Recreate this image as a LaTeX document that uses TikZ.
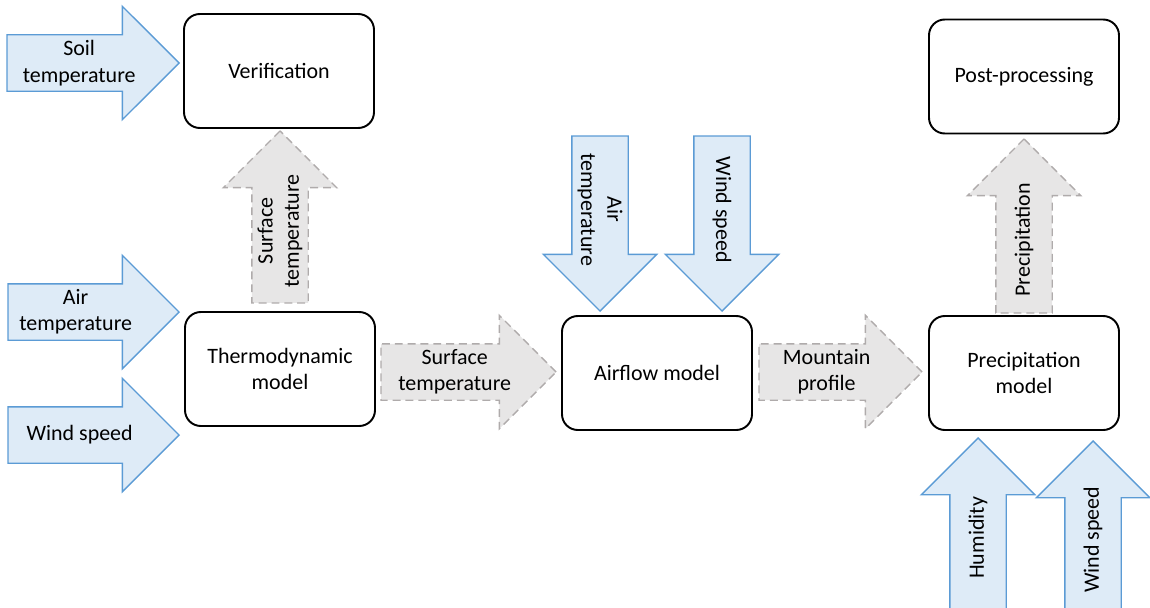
\documentclass[tikz,border=0pt]{standalone}
\usepackage{fontspec}
\setmainfont{Carlito}
\usetikzlibrary{shapes.arrows, calc}

\begin{document}
\begin{tikzpicture}[
    % Colors
    cblue/.style={fill={rgb,255:red,222;green,235;blue,247}, draw={rgb,255:red,91;green,155;blue,213}},
    cgray/.style={fill={rgb,255:red,231;green,230;blue,230}, draw={rgb,255:red,175;green,171;blue,171}},
    % Styles
    model/.style={draw, rounded corners=9pt, minimum width=3.8cm, minimum height=2.28cm,
                  line width=1.1pt, align=center, font=\fontsize{12.5}{15}\selectfont},
    bigarrow/.style={single arrow, single arrow head extend=0.57cm, minimum width=2.24cm,
                     inner xsep=0pt, inner ysep=0.55cm, line width=0.8pt, anchor=tip},
    inarrow/.style={bigarrow, cblue},
    dataarrow/.style={bigarrow, cgray, dash pattern=on 4.5pt off 2.8pt},
    lbl/.style={align=center, inner sep=0pt, font=\fontsize{12.5}{15}\selectfont},
  ]
  \useasboundingbox (0,0) rectangle (23,12.14);

  % Models
  \node[model] (verif) at (5.58, 10.72) {Verification};
  \node[model] (thermo) at (5.6, 4.76) {Thermodynamic\\model};
  \node[model] (airflow) at (13.14, 4.68) {Airflow model};
  \node[model] (precip) at (20.48, 4.68) {Precipitation\\model};
  \node[model] (post) at (20.48, 10.61) {Post-processing};

  % Inputs
  \node[inarrow, minimum height=3.44cm] (soilin) at (3.6, 10.88) {};
  \node[inarrow, minimum height=3.42cm] (airin) at (3.6, 5.9) {};
  \node[inarrow, minimum height=3.42cm] (windin) at (3.6, 3.44) {};
  \node[inarrow, minimum height=3.5cm, rotate=-90] (airtop) at (12.0, 5.9) {};
  \node[inarrow, minimum height=3.5cm, rotate=-90] (windtop) at (14.44, 5.9) {};
  \node[inarrow, minimum height=3.44cm, rotate=90] (humin) at (19.56, 3.4) {};
  \node[inarrow, minimum height=3.4cm, rotate=90] (windbot) at (21.86, 3.34) {};

  % Data flow
  \node[dataarrow, minimum height=3.44cm, rotate=90] (surfup) at (5.6, 9.54) {};
  \node[dataarrow, minimum height=3.5cm] (surfright) at (11.14, 4.7) {};
  \node[dataarrow, minimum height=3.26cm] (mountain) at (18.46, 4.7) {};
  \node[dataarrow, minimum height=3.48cm, rotate=90] (precup) at (20.48, 9.38) {};

  % Labels
  \node[lbl] (soiltxt) at ($(soilin.tail)!0.5!(soilin.tip)!0.28cm!(soilin.tail)$) {Soil\\temperature};
  \node[lbl] (airtxt) at ($(airin.tail)!0.5!(airin.tip)!0.36cm!(airin.tail)$) {Air\\temperature};
  \node[lbl] (windtxt) at ($(windin.tail)!0.5!(windin.tip)!0.28cm!(windin.tail)$) {Wind speed};
  \node[lbl, rotate=-90] (airtoptxt) at ($(airtop.tail)!0.5!(airtop.tip)!0.28cm!(airtop.tail)$) {Air\\temperature};
  \node[lbl, rotate=-90] (windtoptxt) at ($(windtop.tail)!0.5!(windtop.tip)!0.28cm!(windtop.tail)$) {Wind speed};
  \node[lbl, rotate=90] (humtxt) at ($(humin.tail)!0.5!(humin.tip)!0.28cm!(humin.tail)$) {Humidity};
  \node[lbl, rotate=90] (windbottxt) at ($(windbot.tail)!0.5!(windbot.tip)!0.28cm!(windbot.tail)$) {Wind speed};
  \node[lbl, rotate=90] (surfuptxt) at ($(surfup.tail)!0.5!(surfup.tip)!0.28cm!(surfup.tail)$) {Surface\\temperature};
  \node[lbl] (surfrighttxt) at ($(surfright.tail)!0.5!(surfright.tip)!0.28cm!(surfright.tail)$) {Surface\\temperature};
  \node[lbl] (mounttxt) at ($(mountain.tail)!0.5!(mountain.tip)!0.28cm!(mountain.tail)$) {Mountain\\profile};
  \node[lbl, rotate=90] (precuptxt) at ($(precup.tail)!0.5!(precup.tip)!0.28cm!(precup.tail)$) {Precipitation};

\end{tikzpicture}
\end{document}
